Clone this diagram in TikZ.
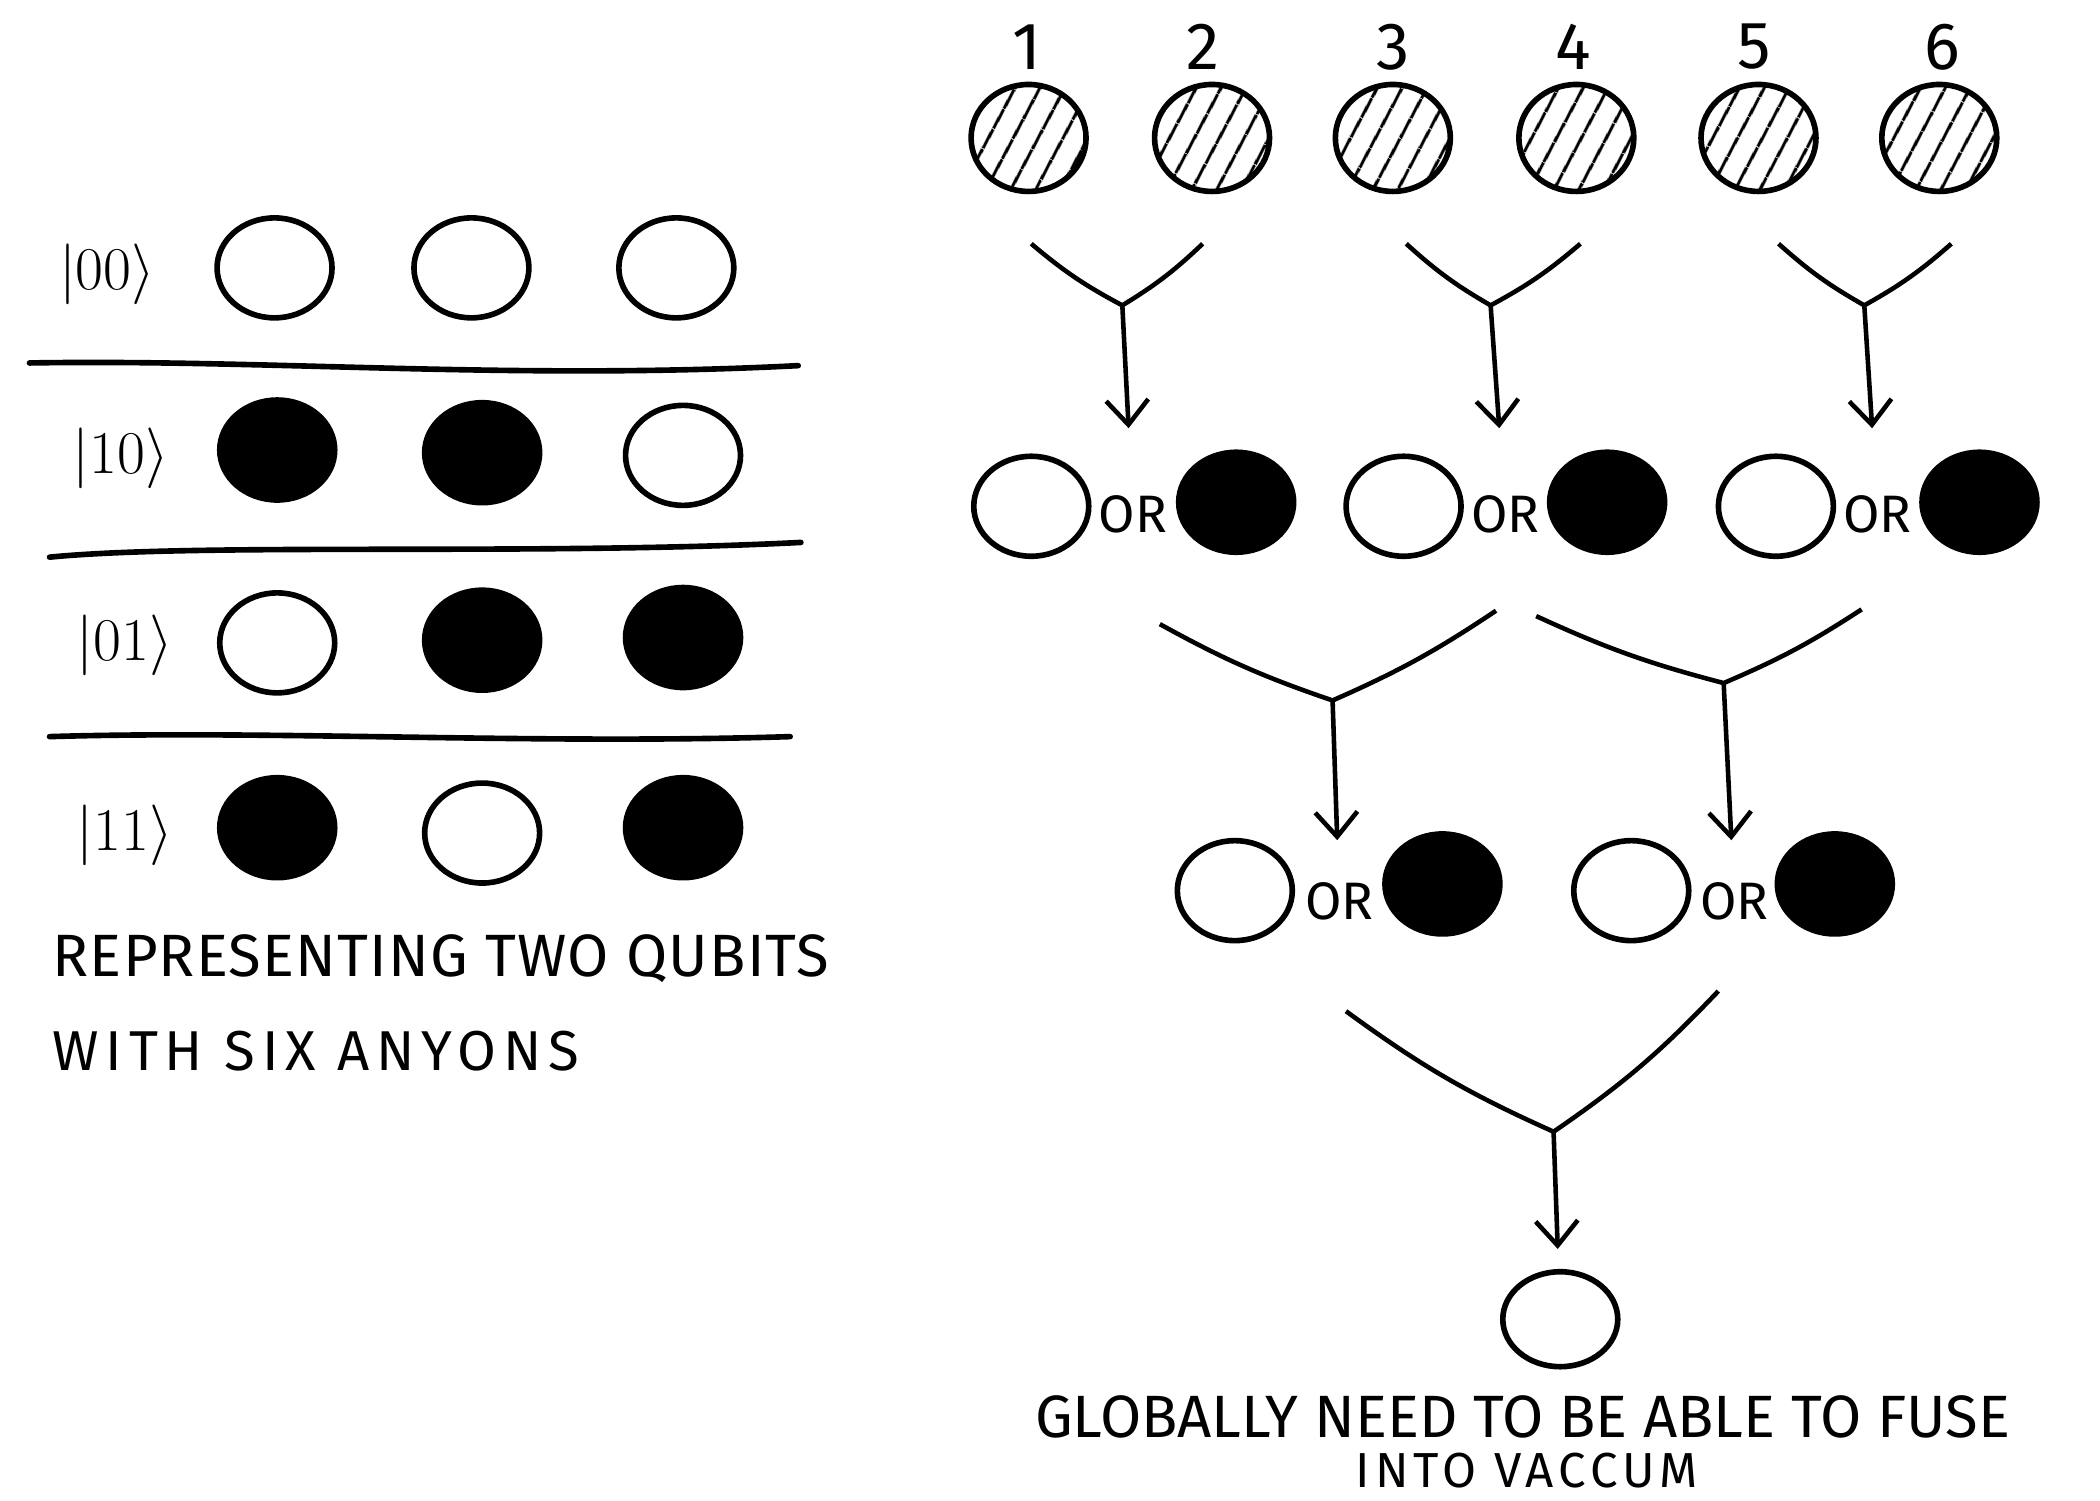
\documentclass[tikz,border=0pt]{standalone}
\usepackage{fontspec}
\setmainfont{Fira Sans}
\usetikzlibrary{shapes.geometric,arrows.meta,patterns.meta}

\begin{document}
\begin{tikzpicture}[x=0.013393cm,y=-0.013393cm,
    anyon/.style={ellipse,draw,line width=1.6pt,minimum width=1.15cm,minimum height=1cm},
    vac/.style={anyon,fill=white},
    tau/.style={anyon,fill=black},
    mixed/.style={anyon,minimum height=1.07cm,pattern={Lines[angle=62,distance=6.5pt,line width=1pt]}},
    ket/.style={font=\fontsize{18}{18}\selectfont},
    num/.style={font=\fontsize{19}{19}\selectfont},
    orlabel/.style={font=\fontsize{15}{15}\selectfont},
    caption/.style={font=\fontsize{16.5}{16.5}\selectfont},
    fuse/.style={line width=1.3pt},
    result/.style={fuse,-{Straight Barb[length=7pt,width=12pt,line width=1.3pt]}},
    sep/.style={line width=1.6pt,line cap=round},
  ]
  \useasboundingbox (0,0) rectangle (1568,1120);
  \node[ket] (k00) at (80,205) {$|00\rangle$};
  \node[ket] (k10) at (90,342) {$|10\rangle$};
  \node[ket] (k01) at (93,482) {$|01\rangle$};
  \node[ket] (k11) at (93,624) {$|11\rangle$};
  \draw
    (205,200) node[vac] (q00a){}
    (352,200) node[vac] (q00b){}
    (505,200) node[vac] (q00c){}
    (207,336) node[tau] (q10a){}
    (360,338) node[tau] (q10b){}
    (510,340) node[vac] (q10c){}
    (207,480) node[vac] (q01a){}
    (360,478) node[tau] (q01b){}
    (510,476) node[tau] (q01c){}
    (207,618) node[tau] (q11a){}
    (360,622) node[vac] (q11b){}
    (510,618) node[tau] (q11c){};
  \draw[sep] (22,271) .. controls (200,268) and (380,284) .. (596,273);
  \draw[sep] (37,416) .. controls (150,405) and (400,415) .. (598,405);
  \draw[sep] (37,550) .. controls (200,545) and (400,556) .. (590,550);
  \node[caption,anchor=west,font=\fontsize{17}{17}\selectfont\addfontfeatures{LetterSpace=2}] (cap1) at (30,716) {REPRESENTING TWO QUBITS};
  \node[caption,anchor=west,font=\fontsize{16}{16}\selectfont\addfontfeatures{LetterSpace=12}] (cap2) at (30,785) {WITH SIX ANYONS};
  \draw
    (768,103) node[mixed] (1){}
    (905,103) node[mixed] (2){}
    (1040,103) node[mixed] (3){}
    (1177,103) node[mixed] (4){}
    (1313,103) node[mixed] (5){}
    (1448,103) node[mixed] (6){};
  \node[num] (n1) at (767,35) {1};
  \node[num] (n2) at (898,35) {2};
  \node[num] (n3) at (1040,35) {3};
  \node[num] (n4) at (1175,35) {4};
  \node[num] (n5) at (1310,35) {5};
  \node[num] (n6) at (1450,35) {6};
  \coordinate (a1) at (770,182);
  \coordinate (a2) at (898,182);
  \coordinate (j1) at (838,228);
  \coordinate (a3) at (1050,182);
  \coordinate (a4) at (1180,182);
  \coordinate (j2) at (1113,228);
  \coordinate (a5) at (1328,182);
  \coordinate (a6) at (1457,182);
  \coordinate (j3) at (1392,228);
  \draw
    (770,378) node[vac] (w1){}
    (923,375) node[tau] (b1){}
    (1048,378) node[vac] (w2){}
    (1200,375) node[tau] (b2){}
    (1326,378) node[vac] (w3){}
    (1478,375) node[tau] (b3){};
  \node[orlabel] (or1) at (846,384) {OR};
  \node[orlabel] (or2) at (1124,384) {OR};
  \node[orlabel] (or3) at (1402,384) {OR};
  \coordinate (a7) at (866,466);
  \coordinate (a8) at (1117,456);
  \coordinate (j4) at (995,523);
  \coordinate (a9) at (1147,460);
  \coordinate (a10) at (1390,455);
  \coordinate (j5) at (1287,510);
  \draw
    (922,665) node[vac] (w4){}
    (1077,660) node[tau] (b4){}
    (1218,665) node[vac] (w5){}
    (1370,660) node[tau] (b5){};
  \node[orlabel] (or4) at (1000,673) {OR};
  \node[orlabel] (or5) at (1295,673) {OR};
  \coordinate (a11) at (1005,755);
  \coordinate (a12) at (1283,740);
  \coordinate (j6) at (1160,845);
  \node[vac,minimum height=0.95cm] (w6) at (1165,985) {};
  \node[caption,font=\fontsize{17}{17}\selectfont] (cap3) at (1137,1058) {GLOBALLY NEED TO BE ABLE TO FUSE};
  \node[caption,font=\fontsize{14}{14}\selectfont\addfontfeatures{LetterSpace=10}] (cap4) at (1140,1098) {INTO VACCUM};
  \begin{scope}[fuse]
    \draw (a1) to[bend right=6] (j1) to[bend right=6] (a2);
    \draw (a3) to[bend right=6] (j2) to[bend right=6] (a4);
    \draw (a5) to[bend right=6] (j3) to[bend right=6] (a6);
    \draw (a7) to[bend right=5] (j4) to[bend right=5] (a8);
    \draw (a9) to[bend right=5] (j5) to[bend right=5] (a10);
    \draw (a11) to[bend right=6] (j6) to[bend right=6] (a12);
    \draw[result,shorten >=0.55cm] (j1) to (or1);
    \draw[result,shorten >=0.55cm] (j2) to (or2);
    \draw[result,shorten >=0.55cm] (j3) to (or3);
    \draw[result,shorten >=0.3cm] (j4) to (or4);
    \draw[result,shorten >=0.3cm] (j5) to (or5);
    \draw[result,shorten >=0.2cm] (j6) to (w6);
  \end{scope}
\end{tikzpicture}
\end{document}
